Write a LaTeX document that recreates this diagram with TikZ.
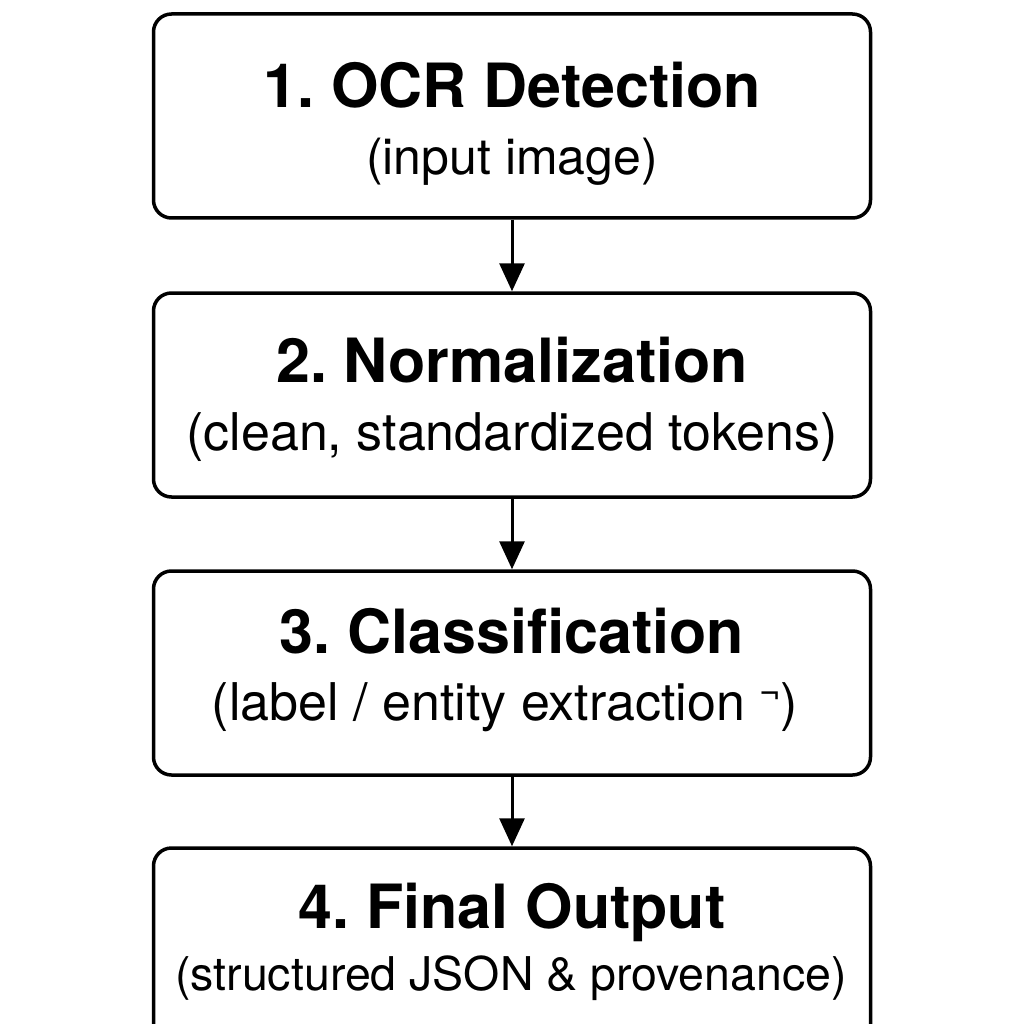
\documentclass[tikz,border=0pt]{standalone}
\usepackage{fontspec}
\setmainfont{TeX Gyre Heros}
\usetikzlibrary{arrows.meta}
\frenchspacing
\tikzset{
  stepbox/.style={draw=black, line width=3.5pt, rounded corners=18pt, minimum width=717pt, inner sep=0pt, fill=white},
  titletext/.style={anchor=base, inner sep=0pt, font=\fontsize{61}{72}\selectfont\bfseries},
  subtext/.style={anchor=base, inner sep=0pt, font=\fontsize{50}{60}\selectfont},
  flow/.style={draw=black, line width=3pt, -{Triangle[width=25pt,length=28pt]}, shorten >=0pt}
}
\begin{document}
\begin{tikzpicture}[x=1pt,y=-1pt]
\clip (0,0) rectangle (1024,1024);
\fill[white] (0,0) rectangle (1024,1024);
\node[stepbox, minimum height=204pt] (b1) at (512,116) {};
\node[stepbox, minimum height=204pt] (b2) at (512,395) {};
\node[stepbox, minimum height=204pt] (b3) at (512,673) {};
\node[stepbox, minimum height=214pt] (b4) at (512,955) {};
\node[titletext] (t1) at (512,108) {1. OCR Detection};
\node[subtext] (s1) at (512,175) {(input image)};
\node[titletext] (t2) at (512,382) {2. Normalization};
\node[subtext, font=\fontsize{52}{62}\selectfont] (s2) at (512,450) {(clean, standardized tokens)};
\node[titletext] (t3) at (512,653) {3. Classification};
\node[subtext, font=\fontsize{52}{62}\selectfont] (s3) at (505,720) {(label / entity extraction \raisebox{0.28em}{\scalebox{0.7}{¬}})};
\node[titletext] (t4) at (512,928) {4. Final Output};
\node[subtext, font=\fontsize{46.5}{56}\selectfont] (s4) at (511,990) {(structured JSON \& provenance)};
\draw[flow] (b1.south) -- (b2.north);
\draw[flow] (b2.south) -- (b3.north);
\draw[flow] (b3.south) -- (b4.north);
\end{tikzpicture}
\end{document}
